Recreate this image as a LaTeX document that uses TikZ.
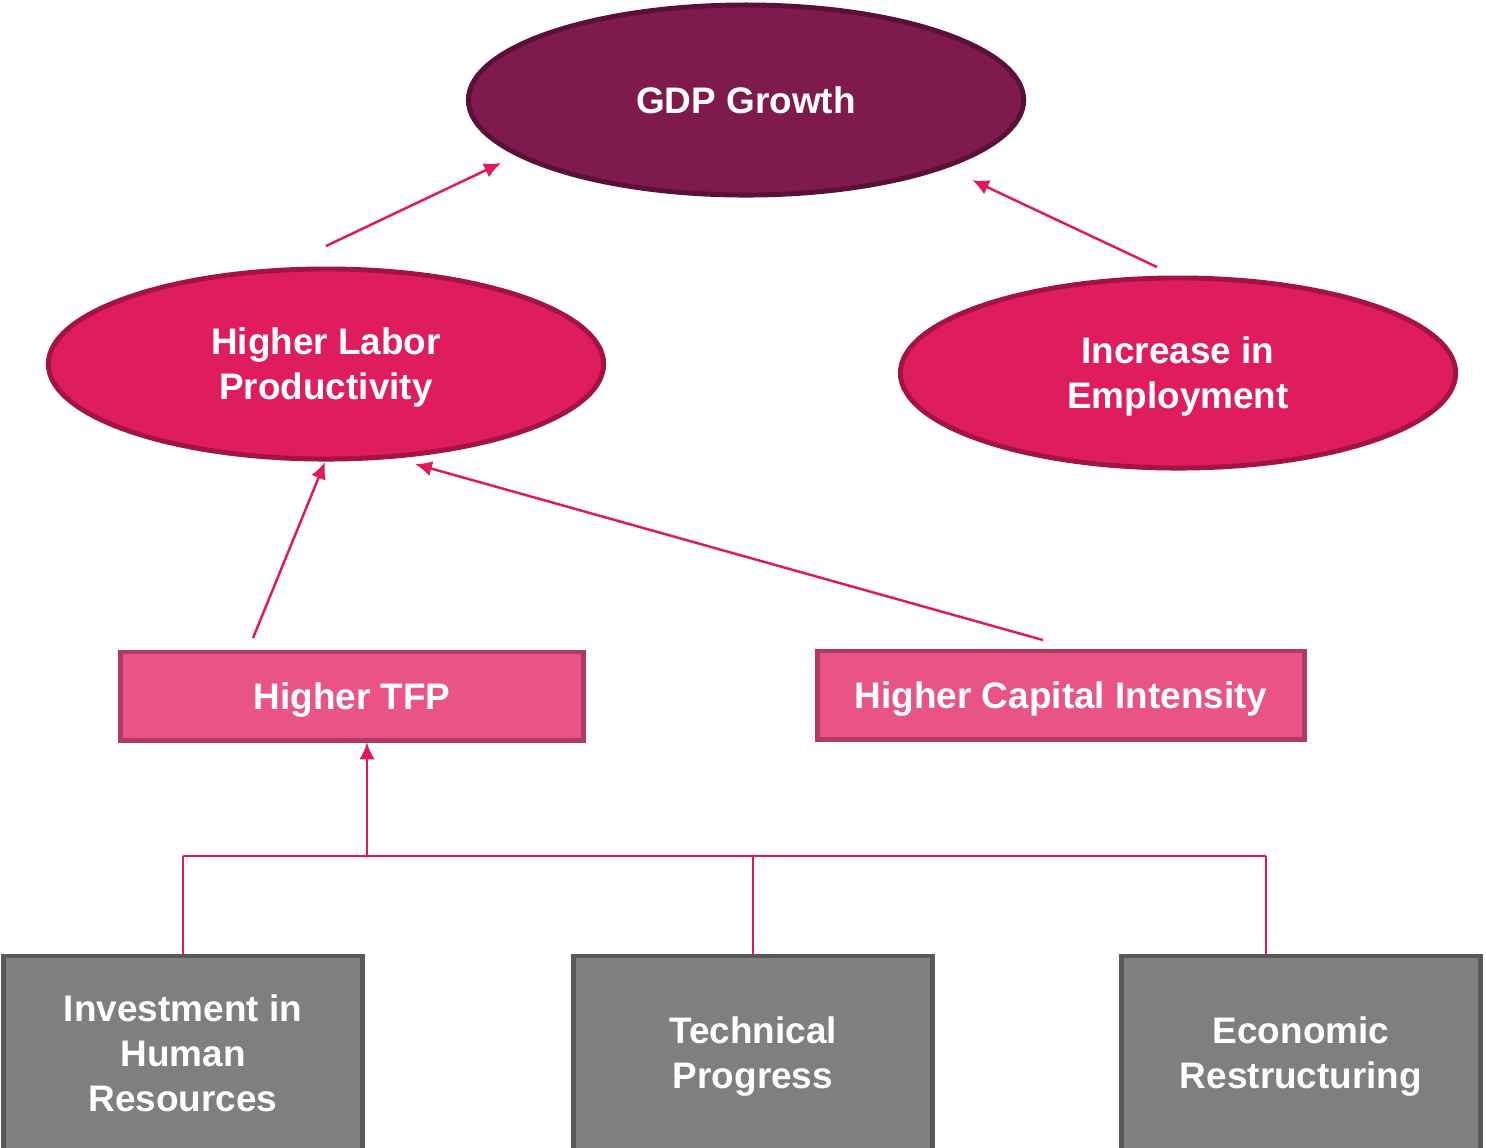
\documentclass[tikz,border=0pt]{standalone}
\usepackage{fontspec}
\setmainfont{Liberation Sans}
\usepackage{tikz}
\usetikzlibrary{shapes.geometric}
\usetikzlibrary{arrows.meta}
\usetikzlibrary{calc}
\definecolor{gdpfill}{HTML}{7F1A4C}
\definecolor{gdpline}{HTML}{5A1038}
\definecolor{midfill}{HTML}{DF1C5C}
\definecolor{midline}{HTML}{A31445}
\definecolor{boxfill}{HTML}{E95484}
\definecolor{boxline}{HTML}{B03A60}
\definecolor{basefill}{HTML}{7F7F7F}
\definecolor{baseline}{HTML}{595959}
\definecolor{linkcol}{HTML}{E0195A}
\tikzset{node style txt/.style={text=white, align=center, inner sep=0pt, text depth=0pt,
           font=\fontsize{10.5pt}{12.8pt}\selectfont\bfseries},
         node style gdp/.style={node style txt, ellipse, draw=gdpline, fill=gdpfill,
           line width=1.4pt, minimum width=5.55cm, minimum height=1.9cm},
         node style mid/.style={node style txt, ellipse, draw=midline, fill=midfill,
           line width=1.4pt, minimum width=5.55cm, minimum height=1.9cm},
         node style box/.style={node style txt, rectangle, draw=boxline, fill=boxfill,
           line width=1.4pt, minimum height=0.88cm},
         node style base/.style={node style txt, rectangle, draw=baseline, fill=basefill,
           line width=1.4pt, minimum width=3.59cm, minimum height=1.94cm},
         link style/.style={draw=linkcol, line width=0.7pt, -{Latex[length=4.8pt,width=4.4pt]}},
         bus style/.style={draw=linkcol, line width=0.6pt}}

\begin{document}
\begin{tikzpicture}[x=0.01cm, y=-0.01cm]
   % page size of the reference (pixel units, y pointing down)
   \useasboundingbox (0,0) rectangle (1486,1147);

   % top level
   \node[node style gdp] (gdp) at (746,100) {GDP Growth};

   % second level
   \node[node style mid] (hlp) at (326,364) {Higher Labor\\Productivity};
   \node[node style mid] (emp) at (1178,373) {Increase in\\Employment};

   % third level
   \node[node style box, minimum width=4.62cm] (tfp) at (352,696) {Higher TFP};
   \node[node style box, minimum width=4.86cm] (hci) at (1061,695) {Higher Capital Intensity};

   % bottom row
   \node[node style base] (inv) at (183,1053) {Investment in\\Human\\Resources};
   \node[node style base] (tech) at (753,1053) {Technical\\Progress};
   \node[node style base] (econ) at (1301,1053) {Economic\\Restructuring};

   % free ends of the arrows (they stop short of the shapes)
   \coordinate (hlp-up) at (326,246);
   \coordinate (gdp-l) at (501,163);
   \coordinate (emp-up) at (1157,267);
   \coordinate (gdp-r) at (972,180);
   \coordinate (tfp-up) at (253,638);
   \coordinate (hlp-l) at (325,462);
   \coordinate (hci-up) at (1043,640);
   \coordinate (hlp-r) at (415,464);

   \draw[link style] (hlp-up) -- (gdp-l);
   \draw[link style] (emp-up) -- (gdp-r);
   \draw[link style] (tfp-up) -- (hlp-l);
   \draw[link style] (hci-up) -- (hlp-r);

   % bus joining the bottom row to Higher TFP
   \coordinate (bus-l) at (183,856);
   \coordinate (bus-m) at (367,856);
   \coordinate (bus-r) at (1266,856);
   \draw[bus style] (bus-l) -- (bus-r);
   \draw[bus style] (bus-l) -- (inv.north);
   \draw[bus style] (bus-l -| tech.north) -- (tech.north);
   \draw[bus style] (bus-r) -- (bus-r |- econ.north);
   \draw[link style] (bus-m) -- (bus-m |- tfp.south);
\end{tikzpicture}
\end{document}
